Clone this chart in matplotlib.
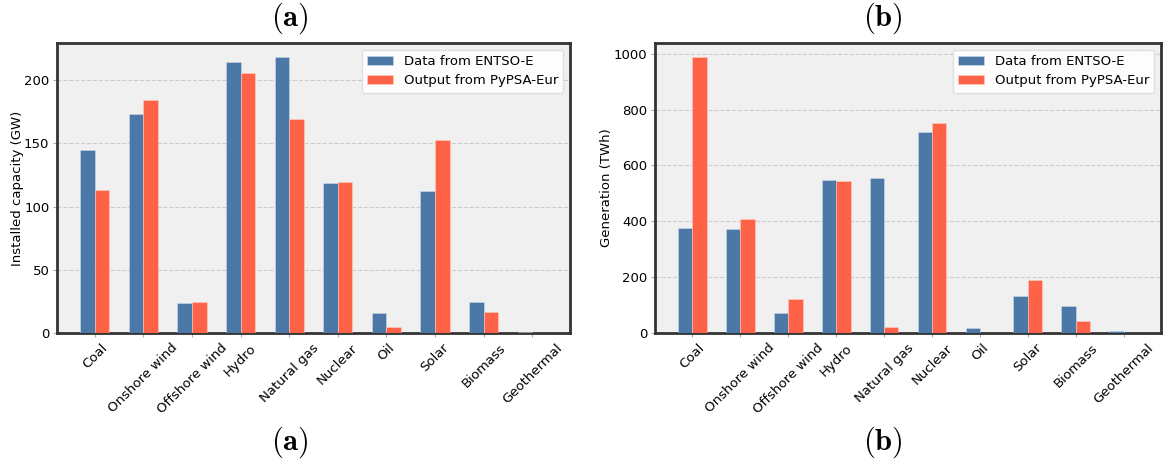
import matplotlib
matplotlib.use("Agg")
import matplotlib.pyplot as plt
import numpy as np

categories = ["Coal", "Onshore wind", "Offshore wind", "Hydro", "Natural gas",
              "Nuclear", "Oil", "Solar", "Biomass", "Geothermal"]
cap_entsoe = [145, 173, 24, 214.3, 218.5, 118.3, 15.6, 112.7, 24.3, 0.8]
cap_pypsa = [113.2, 184.7, 24.9, 205.8, 169.3, 119.3, 4.5, 152.9, 16.7, 0.1]
gen_entsoe = [375, 371, 72, 547, 554, 721, 18, 133, 96, 6]
gen_pypsa = [989, 408, 120, 543, 20, 752, 0.5, 188, 44, 0.2]
legend_labels = ["Data from ENTSO-E", "Output from PyPSA-Eur"]

BLUE = "#4C78A8"
RED = "#FF6347"

plt.rcParams["mathtext.fontset"] = "cm"
plt.rcParams["font.family"] = ["DejaVu Sans"]
plt.rcParams["font.sans-serif"] = ["DejaVu Sans"]

fig = plt.figure(figsize=(11.64, 4.59), dpi=100)
W, H = 1164, 459
ax1 = fig.add_axes([57 / W, 1 - 333 / H, (570 - 57) / W, (333 - 43) / H])
ax2 = fig.add_axes([655 / W, 1 - 333 / H, (1161 - 655) / W, (333 - 43) / H])

x = np.arange(len(categories))
w = 0.3

def draw(ax, a, b, ylabel, label_x):
    ax.set_facecolor("#F0F0F0")
    ax.bar(x - w / 2, a, w, color=BLUE, edgecolor=(0.85, 0.9, 0.95, 0.5), linewidth=0.6,
           label=legend_labels[0], zorder=3)
    ax.bar(x + w / 2, b, w, color=RED, edgecolor=(1, 0.85, 0.8, 0.5), linewidth=0.6,
           label=legend_labels[1], zorder=3)
    ax.set_xticks(x)
    ax.set_xticklabels(categories, rotation=45, ha="center", fontsize=9.5)
    ax.tick_params(axis="x", length=3, color="#AAAAAA", pad=3)
    ax.tick_params(axis="y", length=3, color="#AAAAAA", labelsize=9.5, pad=2.5)
    ax.yaxis.grid(True, linestyle="--", color="#CCCCCC", linewidth=0.8, zorder=0)
    ax.set_axisbelow(True)
    for s in ax.spines.values():
        s.set_color("#333333")
        s.set_linewidth(2)
    ax.set_ylabel(ylabel, fontsize=9.5)
    ax.yaxis.set_label_coords(label_x, 0.5)
    leg = ax.legend(loc="upper right", frameon=True, fancybox=True,
                    handlelength=2.0, prop={"size": 9.5})
    leg.get_frame().set_facecolor("white")
    leg.get_frame().set_edgecolor("#DDDDDD")
    leg.get_frame().set_alpha(0.9)

draw(ax1, cap_entsoe, cap_pypsa, "Installed capacity (GW)", -0.064)
draw(ax2, gen_entsoe, gen_pypsa, "Generation (TWh)", -0.083)

for xp, lab in [(290, "a"), (883, "b")]:
    fig.text(xp / W, 1 - 18 / H, r"$\mathbf{(%s)}$" % lab, ha="center", va="center", fontsize=22)
    fig.text(xp / W, 1 - 442 / H, r"$\mathbf{(%s)}$" % lab, ha="center", va="center", fontsize=22)

fig.savefig("out.png", dpi=100)
